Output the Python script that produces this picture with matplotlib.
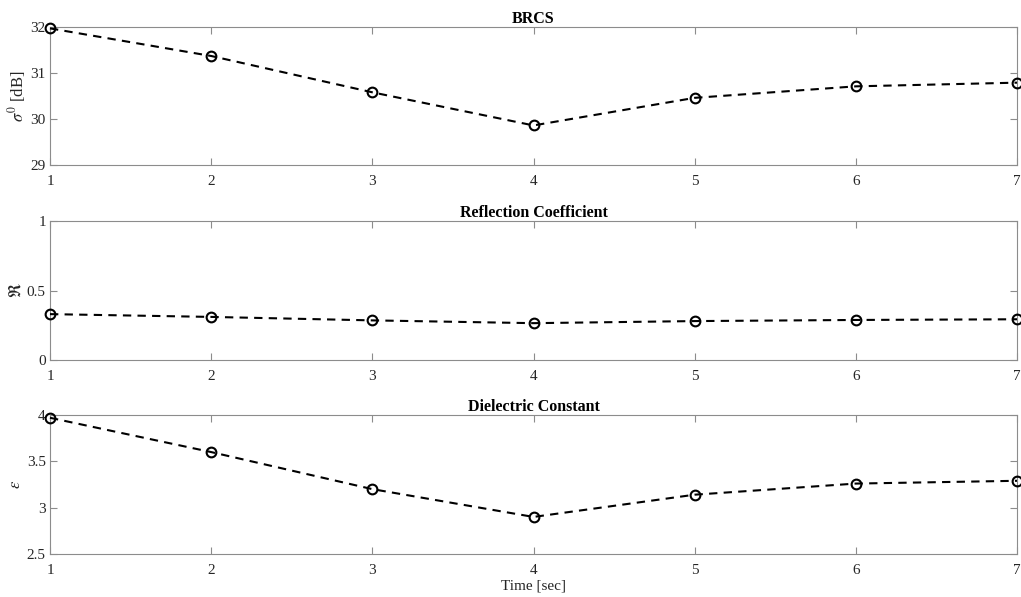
import matplotlib
matplotlib.use("Agg")
import matplotlib.pyplot as plt

plt.rcParams['font.family'] = ['Liberation Serif', 'DejaVu Serif']
plt.rcParams['mathtext.fontset'] = 'stix'

time = [1, 2, 3, 4, 5, 6, 7]
brcs = [31.97, 31.37, 30.58, 29.86, 30.46, 30.71, 30.79]
refl = [0.33, 0.31, 0.285, 0.265, 0.28, 0.288, 0.293]
diel = [3.97, 3.60, 3.20, 2.90, 3.14, 3.26, 3.29]

titles = ['BRCS', 'Reflection Coefficient', 'Dielectric Constant']
ylabels = [r'$\sigma^0$ [dB]', r'$\Re$', r'$\epsilon$']
ylims = [(29, 32), (0, 1), (2.5, 4)]
yticks = [[29, 30, 31, 32], [0, 0.5, 1], [2.5, 3, 3.5, 4]]
yticklabels = [['29', '30', '31', '32'], ['0', '0.5', '1'], ['2.5', '3', '3.5', '4']]
series = [brcs, refl, diel]

fig = plt.figure(figsize=(10.21, 5.97), dpi=100)
W, H = 1021, 597
left, right = 50, 1017
tops = [27, 221, 415]
bottoms = [165, 360, 554]
axcol = '#8c8c8c'
txtcol = '#262626'

for i in range(3):
    ax = fig.add_axes([left / W, 1 - bottoms[i] / H, (right - left) / W, (bottoms[i] - tops[i]) / H])
    ax.plot(time, series[i], linestyle='--', color='black', linewidth=1.5,
            marker='o', markersize=7, markerfacecolor='none', markeredgecolor='black',
            markeredgewidth=1.5, dashes=(4, 3), clip_on=False, zorder=5)
    ax.set_xlim(1, 7)
    ax.set_ylim(*ylims[i])
    ax.set_xticks(time)
    ax.set_yticks(yticks[i])
    ax.set_yticklabels(yticklabels[i])
    ax.tick_params(direction='in', top=True, right=True, length=5, width=0.8,
                   colors=axcol, labelcolor=txtcol, labelsize=11)
    ax.tick_params(axis='x', pad=7)
    ax.tick_params(axis='y', pad=3)
    for s in ax.spines.values():
        s.set_color(axcol)
        s.set_linewidth(0.8)
    ax.set_title(titles[i], fontsize=11.5, fontweight='bold', pad=3, color='black')
    ax.set_ylabel(ylabels[i], fontsize=12, color=txtcol, labelpad=2)
    if i == 2:
        ax.set_xlabel('Time [sec]', fontsize=11, color=txtcol, labelpad=2)

fig.savefig('out.png', dpi=100)
